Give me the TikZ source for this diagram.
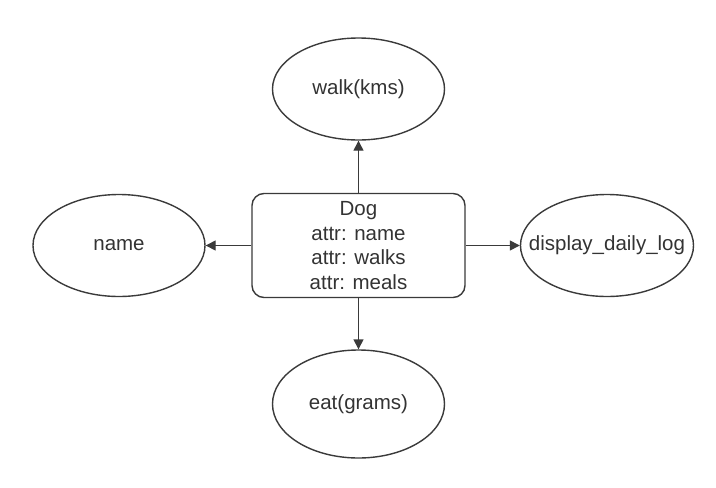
\documentclass[tikz,border=0pt]{standalone}
\usepackage{fontspec}
\setmainfont{Liberation Sans}
\usetikzlibrary{shapes.geometric,arrows.meta}
\definecolor{ln}{HTML}{3A3A3A}
\definecolor{tx}{HTML}{333333}
\newcommand\ovtxt[1]{\makebox[0pt]{#1}}
\tikzset{
  oval/.style={ellipse, draw=ln, line width=1.4pt, minimum width=172pt, minimum height=102pt, inner sep=0pt, text=tx, font=\fontsize{20.5}{24}\selectfont},
  classbox/.style={draw=ln, line width=1.4pt, rounded corners=12pt, minimum width=213pt, minimum height=104pt, inner sep=0pt, text=tx, align=center, font=\fontsize{20.5}{24.5}\selectfont},
  conn/.style={draw=ln, line width=1.4pt, -{Triangle[length=10pt,width=10pt]}}
}
\begin{document}
\begin{tikzpicture}[x=1pt,y=-1pt]
\useasboundingbox (0,0) rectangle (716,488);
\node[classbox] (dog) at (358.5,245.5) {Dog\\attr: name\\attr: walks\\attr: meals};
\node[oval] (walk) at (358.5,89) {\ovtxt{walk(kms)}};
\node[oval] (name) at (119,245.5) {\ovtxt{name}};
\node[oval, minimum width=173pt] (log) at (607,245.5) {\ovtxt{display\_daily\_log}};
\node[oval, minimum height=108pt] (eat) at (358.5,404) {\ovtxt{eat(grams)}};
\draw[conn] (dog.north) -- (walk.south);
\draw[conn] (dog.west) -- (name.east);
\draw[conn] (dog.east) -- (log.west);
\draw[conn] (dog.south) -- (eat.north);
\end{tikzpicture}
\end{document}
